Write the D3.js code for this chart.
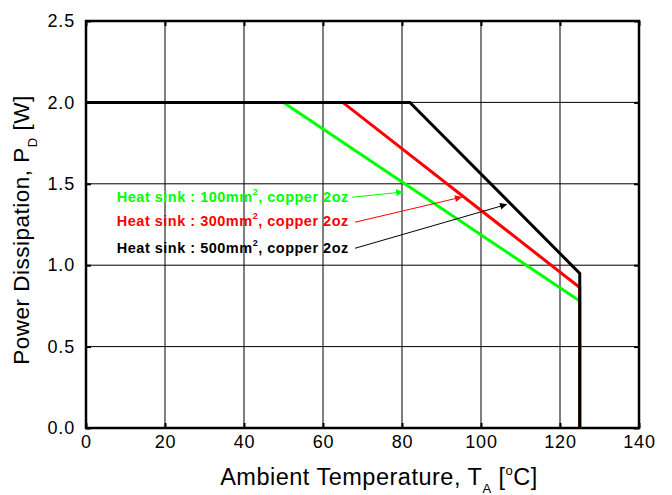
<!DOCTYPE html>
<html><head><meta charset="utf-8">
<script src="https://cdn.jsdelivr.net/npm/d3@7"></script>
<style>body{margin:0;background:#fff}svg{display:block}text{font-family:Arial,"Liberation Sans",sans-serif}</style>
</head><body>
<svg id="c" width="672" height="495"></svg>
<script>
const xTicks = [0,20,40,60,80,100,120,140];
const yTicks = [0.0,0.5,1.0,1.5,2.0,2.5];
const seriesNames = ["Heat sink : 100mm², copper 2oz","Heat sink : 300mm², copper 2oz","Heat sink : 500mm², copper 2oz"];
const seriesColors = ["#00ff00","#ff0000","#000000"];
const green = [[0,2.0],[50,2.0],[125,0.78],[125,0]];
const red   = [[0,2.0],[65,2.0],[125,0.863],[125,0]];
const black = [[0,2.0],[82,2.0],[125,0.95],[125,0]];
// annotation arrows: [startX,startY,tipX,tipY] in data units
const arrows = [[67.3,1.417,80.3,1.45],[68.1,1.264,95.2,1.419],[68.1,1.104,106.6,1.374]];
const labelPos = [[7.8,1.39],[7.8,1.238],[7.8,1.076]];

const svg = d3.select("#c");
const L=86,R=639,T=21,B=428;
const x = d3.scaleLinear().domain([0,140]).range([L,R]);
const y = d3.scaleLinear().domain([0,2.5]).range([B,T]);

const defs = svg.append("defs");
seriesColors.forEach((c,i)=>{
  defs.append("marker").attr("id","ar"+i).attr("viewBox","0 0 10 10").attr("refX",10).attr("refY",5)
    .attr("markerWidth",12).attr("markerHeight",7).attr("markerUnits","userSpaceOnUse").attr("orient","auto")
    .append("path").attr("d","M0,0L10,5L0,10z").attr("fill",c);
});

// grid
svg.append("g").selectAll("line").data(xTicks.slice(1,-1)).join("line")
  .attr("x1",d=>x(d)).attr("x2",d=>x(d)).attr("y1",T).attr("y2",B).attr("stroke","#000").attr("stroke-width",1);
svg.append("g").selectAll("line").data(yTicks.slice(1,-1)).join("line")
  .attr("y1",d=>y(d)).attr("y2",d=>y(d)).attr("x1",L).attr("x2",R).attr("stroke","#000").attr("stroke-width",1);

// axes (ticks inward)
const fs = "18px";
const gx = svg.append("g").attr("transform",`translate(0,${B})`).call(d3.axisBottom(x).tickValues(xTicks).tickSize(-5).tickPadding(11).tickFormat(d3.format("d")));
const gy = svg.append("g").attr("transform",`translate(${L},0)`).call(d3.axisLeft(y).tickValues(yTicks).tickSize(-5).tickPadding(11).tickFormat(d3.format(".1f")));
const gx2 = svg.append("g").attr("transform",`translate(0,${T})`).call(d3.axisTop(x).tickValues(xTicks).tickSize(-5).tickFormat(""));
const gy2 = svg.append("g").attr("transform",`translate(${R},0)`).call(d3.axisRight(y).tickValues(yTicks).tickSize(-5).tickFormat(""));
[gx,gy,gx2,gy2].forEach(g=>{
  g.select(".domain").remove();
  g.selectAll(".tick line").attr("stroke","#000").attr("stroke-width",2);
  g.selectAll("text").attr("font-size",fs).attr("fill","#000").attr("letter-spacing","0.8px").attr("font-family","Arial,'Liberation Sans',sans-serif");
});
gx.selectAll("text").attr("dy","0.5em");
svg.append("rect").attr("x",L).attr("y",T).attr("width",R-L).attr("height",B-T).attr("fill","none").attr("stroke","#000").attr("stroke-width",2.5);

// data lines
const line = d3.line().x(d=>x(d[0])).y(d=>y(d[1]));
[green,red,black].forEach((s,i)=>{
  svg.append("path").attr("d",line(s)).attr("fill","none").attr("stroke",seriesColors[i]).attr("stroke-width",3).attr("stroke-linejoin","miter");
});

// annotations
arrows.forEach((a,i)=>{
  svg.append("line").attr("x1",x(a[0])).attr("y1",y(a[1])).attr("x2",x(a[2])).attr("y2",y(a[3]))
    .attr("stroke",seriesColors[i]).attr("stroke-width",1).attr("marker-end",`url(#ar${i})`);
});
seriesNames.forEach((n,i)=>{
  const parts = n.split("²");
  const t = svg.append("text").attr("x",x(labelPos[i][0])).attr("y",y(labelPos[i][1]))
    .attr("font-size","14.5px").attr("font-weight","bold").attr("letter-spacing","0.5px").attr("fill",seriesColors[i]);
  t.append("tspan").text(parts[0]);
  t.append("tspan").attr("dy",-7).attr("font-size","9px").text("2");
  t.append("tspan").attr("dy",7).text(parts[1]);
});

// axis titles
const xt = svg.append("text").attr("x",379).attr("y",485).attr("text-anchor","middle").attr("font-size","23.5px").attr("letter-spacing","0.5px");
xt.append("tspan").text("Ambient Temperature, T");
xt.append("tspan").attr("dy",8).attr("font-size","13px").text("A");
xt.append("tspan").attr("dy",-8).text(" [");
xt.append("tspan").attr("dy",-10).attr("font-size","13px").text("o");
xt.append("tspan").attr("dy",10).text("C]");

const yt = svg.append("text").attr("transform","translate(29,230) rotate(-90)").attr("text-anchor","middle").attr("font-size","22.5px").attr("letter-spacing","0.5px");
yt.append("tspan").text("Power Dissipation, P");
yt.append("tspan").attr("dy",8).attr("font-size","13px").text("D");
yt.append("tspan").attr("dy",-8).text(" [W]");
</script>
</body></html>
